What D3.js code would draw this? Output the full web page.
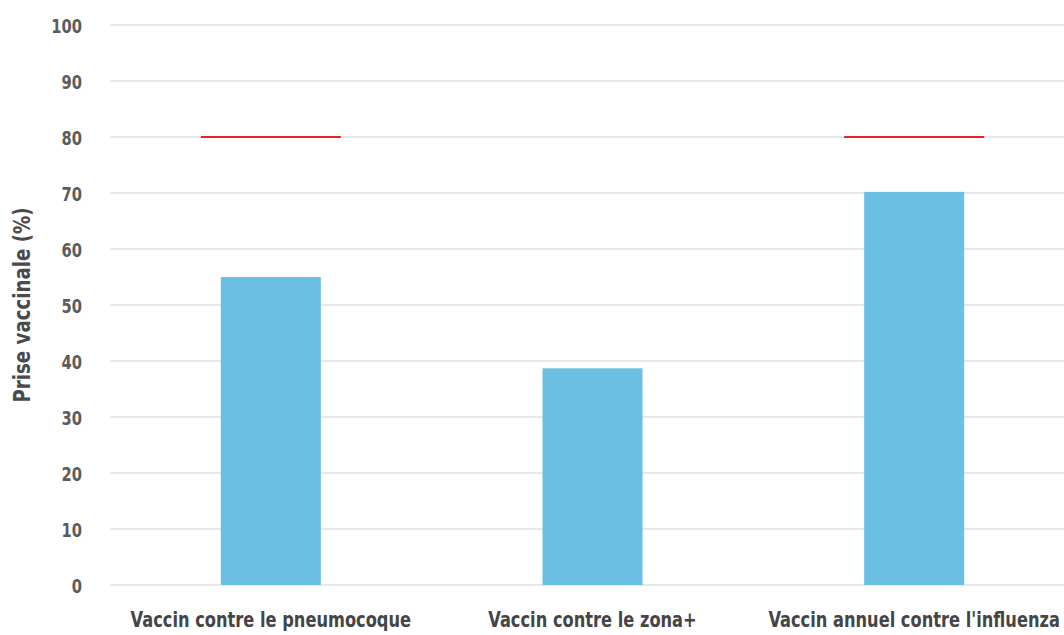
<!DOCTYPE html>
<html>
<head>
<meta charset="utf-8">
<script src="https://cdn.jsdelivr.net/npm/d3@7"></script>
<style>
  html, body { margin: 0; padding: 0; background: #ffffff; }
  svg { display: block; }
</style>
</head>
<body>
<svg id="chart" width="1064" height="635"></svg>
<script>
// Vaccine uptake by vaccine type, with an 80 % target marker
const categories = ["Vaccin contre le pneumocoque", "Vaccin contre le zona+", "Vaccin annuel contre l'influenza"];
const uptake = [55, 38.7, 70.2];
const targets = [80, null, 80];
const yTicks = [0, 10, 20, 30, 40, 50, 60, 70, 80, 90, 100];
const yTitle = "Prise vaccinale (%)";

const svg = d3.select("#chart");
const W = 1064;
const font = '"DejaVu Sans Condensed", "DejaVu Sans", sans-serif';

const x = d3.scaleBand()
  .domain(categories)
  .range([110, 1075])
  .paddingInner(0.689)
  .paddingOuter(0.3445);

const y = d3.scaleLinear()
  .domain([0, 100])
  .range([585, 25]);

// horizontal gridlines
svg.append("g")
  .selectAll("line")
  .data(yTicks)
  .join("line")
  .attr("x1", 110)
  .attr("x2", W)
  .attr("y1", d => y(d))
  .attr("y2", d => y(d))
  .attr("stroke", "#e8e8e8")
  .attr("stroke-width", 2);

// y axis labels (narrowed to a condensed look)
const yAxis = d3.axisLeft(y).tickValues(yTicks).tickSize(0).tickPadding(0);
const gy = svg.append("g").attr("transform", "translate(82,0)").call(yAxis);
gy.select(".domain").remove();
gy.selectAll("text")
  .attr("font-family", font)
  .attr("font-weight", "bold")
  .attr("font-size", 20)
  .attr("fill", "#5c5c5c")
  .attr("dy", "0.36em")
  .attr("transform", "scale(0.82,1)");

// y axis title
svg.append("text")
  .attr("transform", `translate(30,${y(50)}) rotate(-90) scale(0.88,1)`)
  .attr("text-anchor", "middle")
  .attr("font-family", font)
  .attr("font-weight", "bold")
  .attr("font-size", 23)
  .attr("fill", "#4a4a4a")
  .text(yTitle);

// bars
svg.append("g")
  .selectAll("rect")
  .data(categories)
  .join("rect")
  .attr("x", d => x(d))
  .attr("width", x.bandwidth())
  .attr("y", (d, i) => y(uptake[i]))
  .attr("height", (d, i) => y(0) - y(uptake[i]))
  .attr("fill", "#6bbfe2");

// target markers
const markerHalf = 70;
svg.append("g")
  .selectAll("line")
  .data(categories.map((c, i) => ({ c, t: targets[i] })).filter(d => d.t != null))
  .join("line")
  .attr("x1", d => x(d.c) + x.bandwidth() / 2 - markerHalf)
  .attr("x2", d => x(d.c) + x.bandwidth() / 2 + markerHalf)
  .attr("y1", d => y(d.t))
  .attr("y2", d => y(d.t))
  .attr("stroke", "#e4222b")
  .attr("stroke-width", 2);

// x axis labels
const xAxis = d3.axisBottom(x).tickSize(0).tickPadding(0);
const gx = svg.append("g").attr("transform", "translate(0,611)").call(xAxis);
gx.select(".domain").remove();
gx.selectAll("text")
  .attr("font-family", font)
  .attr("font-weight", "bold")
  .attr("font-size", 21)
  .attr("fill", "#454545")
  .attr("dy", "0.75em")
  .attr("transform", "scale(0.86,1)");
</script>
</body>
</html>
